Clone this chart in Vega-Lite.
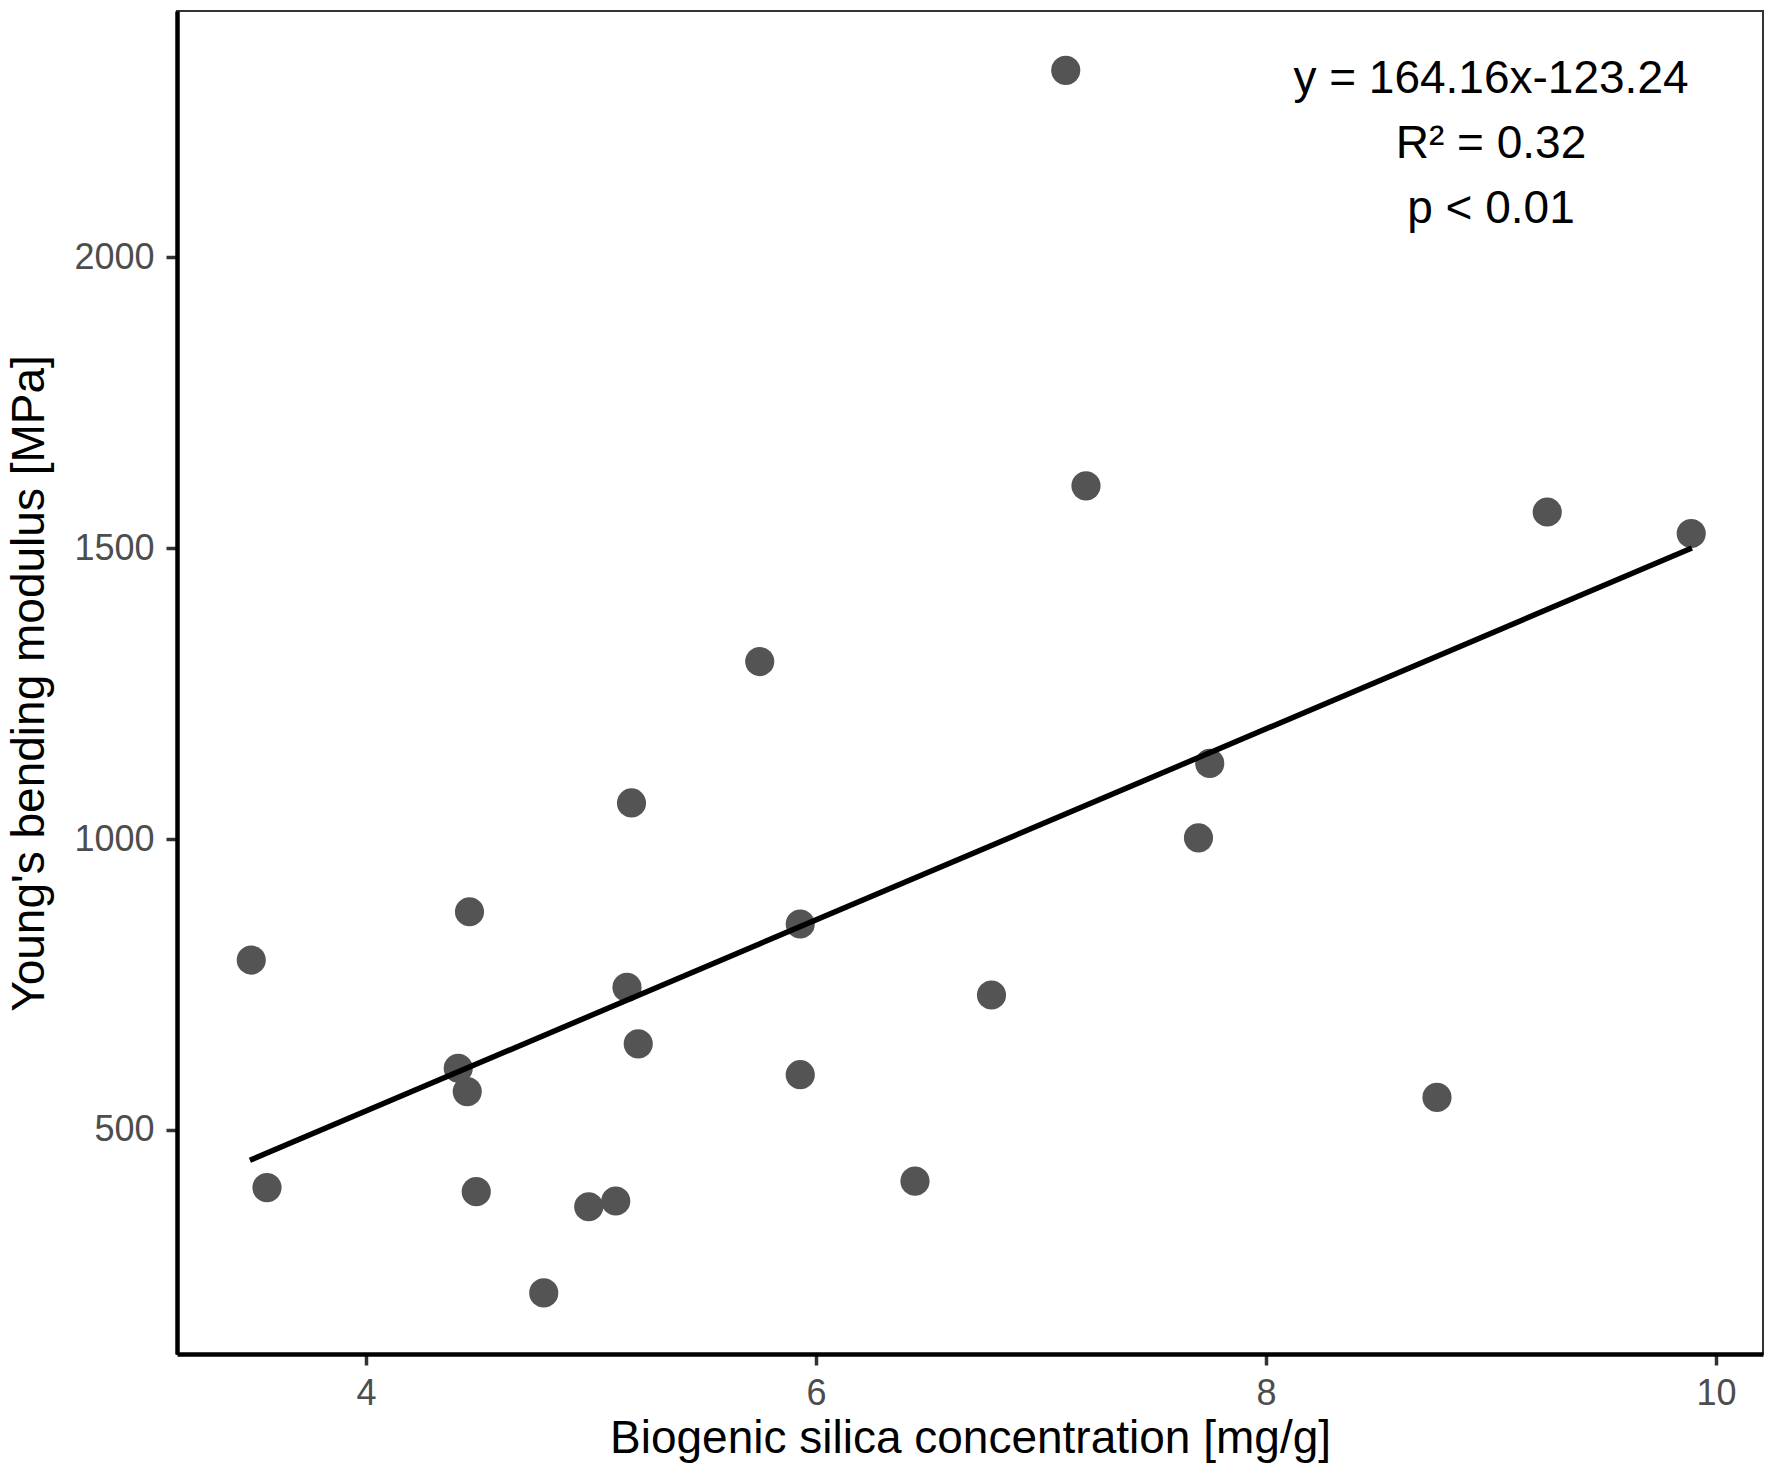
{
  "$schema": "https://vega.github.io/schema/vega-lite/v6.json",
  "width": 1586,
  "height": 1343,
  "autosize": {"type": "none"},
  "padding": {"left": 177, "top": 11, "right": 11, "bottom": 124},
  "background": "white",
  "config": {
    "font": "Liberation Sans",
    "view": {"stroke": "#333333", "strokeWidth": 2},
    "axis": {
      "grid": false,
      "domainColor": "black",
      "domainWidth": 4.5,
      "tickColor": "#333333",
      "tickWidth": 3.5,
      "tickSize": 11,
      "labelFont": "Liberation Sans",
      "labelFontSize": 36,
      "labelColor": "#4D4D4D",
      "titleFont": "Liberation Sans",
      "titleFontSize": 46,
      "titleFontWeight": "normal",
      "titleColor": "black"
    }
  },
  "datasets": {
    "points": [
      {"silica": 3.49, "modulus": 792},
      {"silica": 3.56, "modulus": 401},
      {"silica": 4.46, "modulus": 875},
      {"silica": 4.41, "modulus": 606},
      {"silica": 4.45, "modulus": 566},
      {"silica": 4.49, "modulus": 394},
      {"silica": 4.79, "modulus": 220},
      {"silica": 4.99, "modulus": 368},
      {"silica": 5.11, "modulus": 378},
      {"silica": 5.18, "modulus": 1062},
      {"silica": 5.16, "modulus": 745},
      {"silica": 5.21, "modulus": 648},
      {"silica": 5.75, "modulus": 1305},
      {"silica": 5.93, "modulus": 854},
      {"silica": 5.93, "modulus": 595},
      {"silica": 6.44, "modulus": 412},
      {"silica": 6.78, "modulus": 732},
      {"silica": 7.11, "modulus": 2321},
      {"silica": 7.20, "modulus": 1607},
      {"silica": 7.70, "modulus": 1002},
      {"silica": 7.75, "modulus": 1130},
      {"silica": 8.76, "modulus": 556},
      {"silica": 9.25, "modulus": 1562},
      {"silica": 9.89, "modulus": 1525}
    ],
    "fit": [
      {"silica": 3.484, "modulus": 448},
      {"silica": 9.893, "modulus": 1500}
    ],
    "notes": [
      {"silica": 9.0, "modulus": 2282, "label": "y = 164.16x-123.24"},
      {"silica": 9.0, "modulus": 2170, "label": "R² = 0.32"},
      {"silica": 9.0, "modulus": 2058, "label": "p < 0.01"}
    ]
  },
  "layer": [
    {
      "data": {"name": "points"},
      "mark": {"type": "circle", "size": 850, "color": "#545454", "opacity": 1},
      "encoding": {
        "x": {
          "field": "silica",
          "type": "quantitative",
          "title": "Biogenic silica concentration [mg/g]",
          "scale": {"domain": [3.16, 10.209], "nice": false, "zero": false},
          "axis": {
            "values": [4, 6, 8, 10],
            "format": "d",
            "labelPadding": 11,
            "titleX": 793,
            "titleY": 98,
            "titleBaseline": "alphabetic",
            "titleAnchor": "middle"
          }
        },
        "y": {
          "field": "modulus",
          "type": "quantitative",
          "title": "Young's bending modulus [MPa]",
          "scale": {"domain": [115, 2423], "nice": false, "zero": false},
          "axis": {
            "values": [500, 1000, 1500, 2000],
            "format": "d",
            "labelPadding": 12,
            "titleX": -134,
            "titleY": 672,
            "titleAngle": -90,
            "titleBaseline": "alphabetic",
            "titleAlign": "center"
          }
        }
      }
    },
    {
      "data": {"name": "fit"},
      "mark": {"type": "line", "color": "black", "strokeWidth": 5.5},
      "encoding": {
        "x": {"field": "silica", "type": "quantitative", "title": "Biogenic silica concentration [mg/g]"},
        "y": {"field": "modulus", "type": "quantitative", "title": "Young's bending modulus [MPa]"}
      }
    },
    {
      "data": {"name": "notes"},
      "mark": {"type": "text", "fontSize": 46, "color": "black", "align": "center", "baseline": "alphabetic", "font": "Liberation Sans"},
      "encoding": {
        "x": {"field": "silica", "type": "quantitative", "title": "Biogenic silica concentration [mg/g]"},
        "y": {"field": "modulus", "type": "quantitative", "title": "Young's bending modulus [MPa]"},
        "text": {"field": "label"}
      }
    }
  ]
}
